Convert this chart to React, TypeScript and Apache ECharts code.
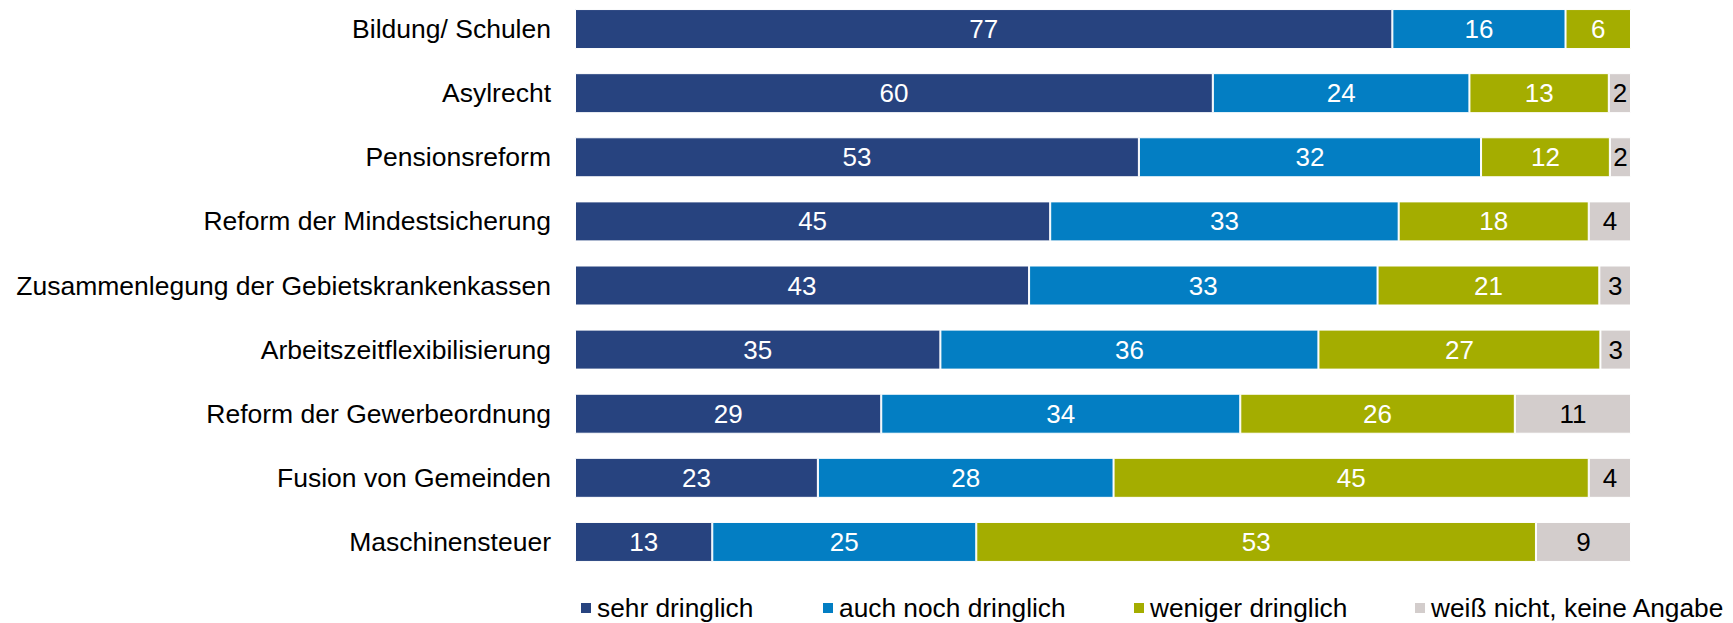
import React, { useEffect, useRef } from "react";
import * as echarts from "echarts";

const categories = [
  "Bildung/ Schulen",
  "Asylrecht",
  "Pensionsreform",
  "Reform der Mindestsicherung",
  "Zusammenlegung der Gebietskrankenkassen",
  "Arbeitszeitflexibilisierung",
  "Reform der Gewerbeordnung",
  "Fusion von Gemeinden",
  "Maschinensteuer",
];

const seriesNames = ["sehr dringlich", "auch noch dringlich", "weniger dringlich", "weiß nicht, keine Angabe"];

const sehrDringlich = [77.4, 60.4, 53.4, 45, 43, 34.6, 29, 23, 13];
const auchNochDringlich = [16.4, 24.3, 32.4, 33, 33, 35.8, 34, 28, 25];
const wenigerDringlich = [6.2, 13.2, 12.2, 18, 21, 26.7, 26, 45, 53];
const weissNicht: (number | null)[] = [null, 2.1, 2.0, 4, 3, 2.9, 11, 4, 9];

const colors = ["#27437F", "#037EC3", "#A4AD00", "#D3CDCC"];
const labelColors = ["#ffffff", "#ffffff", "#ffffff", "#000000"];
const legendLefts = [579, 821, 1132, 1413];

const FONT = "'Liberation Sans', Arial, sans-serif";
const SHIFT = 3;

export default function App() {
  const ref = useRef<HTMLDivElement>(null);

  useEffect(() => {
    document.body.style.margin = "0";
    if (!ref.current) return;
    const chart = echarts.init(ref.current, undefined, { renderer: "svg" });
    const dataSets = [sehrDringlich, auchNochDringlich, wenigerDringlich, weissNicht];
    chart.setOption({
      animation: false,
      textStyle: { fontFamily: FONT },
      grid: { left: 575, right: 102, top: 0, height: 577, containLabel: false },
      legend: seriesNames.map((name, i) => ({
        data: [name],
        left: legendLefts[i],
        top: 595 + SHIFT,
        padding: 0,
        icon: "rect",
        itemWidth: 12,
        itemHeight: 12,
        textStyle: { fontSize: 26.3, color: "#000", fontFamily: FONT, lineHeight: 26 },
      })),
      xAxis: {
        type: "value",
        min: 0,
        max: 100,
        show: false,
      },
      yAxis: {
        type: "category",
        data: categories,
        inverse: true,
        axisLine: { show: false },
        axisTick: { show: false },
        axisLabel: { fontSize: 26.5, color: "#000", margin: 24, fontFamily: FONT },
      },
      series: seriesNames.map((name, i) => ({
        name,
        type: "bar",
        stack: "total",
        barWidth: 40,
        data: dataSets[i],
        itemStyle: { color: colors[i], borderColor: "#ffffff", borderWidth: 1 },
        label: {
          show: true,
          position: "inside",
          fontSize: 26,
          color: labelColors[i],
          fontFamily: FONT,
          formatter: (p: any) => (p.value == null ? "" : String(Math.round(p.value))),
        },
      })),
    });
    return () => chart.dispose();
  }, []);

  return (
    <div
      ref={ref}
      style={{ position: "relative", top: -SHIFT, width: 1733, height: 623 + SHIFT }}
    />
  );
}
